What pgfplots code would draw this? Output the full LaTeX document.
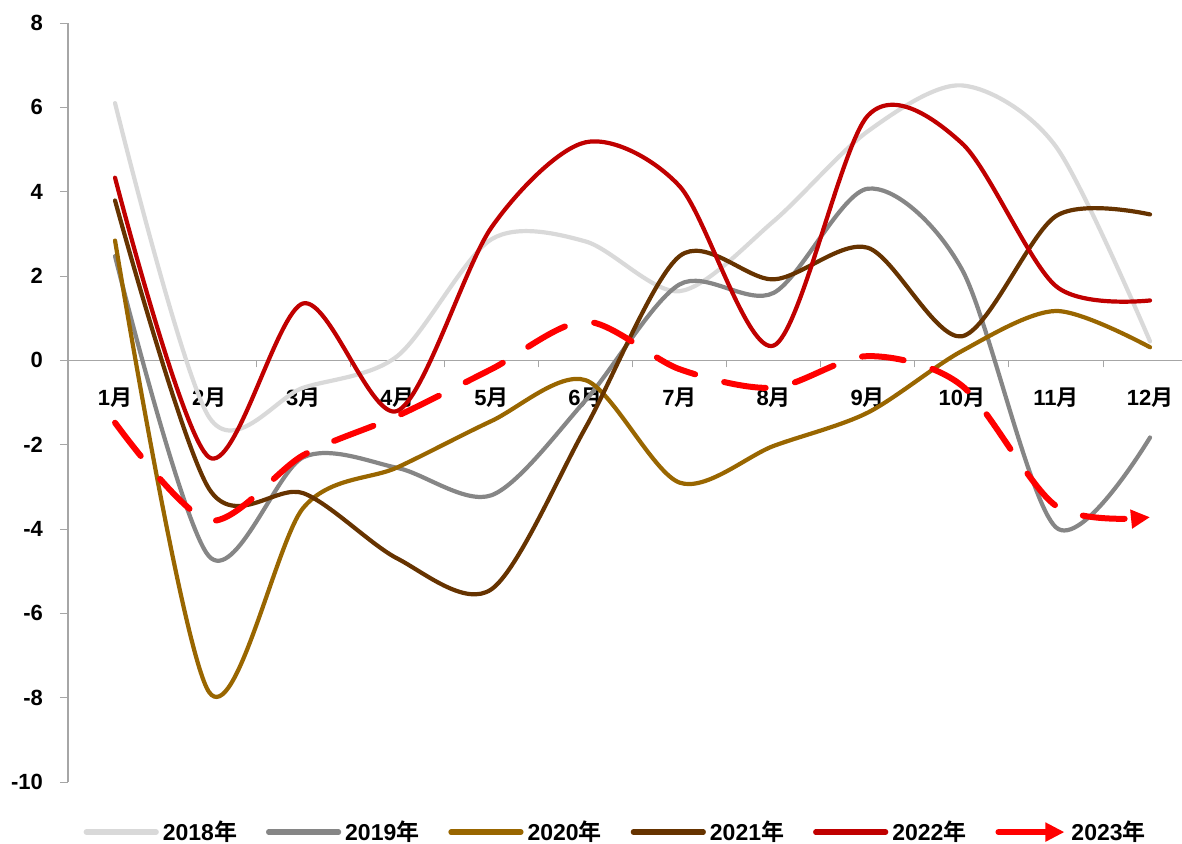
\documentclass[border=0pt]{standalone}
\usepackage{fontspec}
\setmainfont{Liberation Sans}
\newfontfamily\cjk{Noto Sans CJK SC}[BoldFont={Noto Sans CJK SC Bold}]
\usepackage{pgfplots}
\usepackage{pgfplotstable}
\pgfplotsset{compat=1.18}
\usetikzlibrary{arrows.meta}
\definecolor{c18}{HTML}{D9D9D9}
\definecolor{c19}{HTML}{868686}
\definecolor{c20}{HTML}{996600}
\definecolor{c21}{HTML}{663300}
\definecolor{c22}{HTML}{C00000}
\definecolor{c23}{HTML}{FF0000}
\definecolor{axgray}{HTML}{A6A6A6}
\pgfplotstableread{
m y18 y19 y20 y21 y22 y23
1 6.1 2.47 2.84 3.79 4.33 -1.48
2 -1.35 -4.65 -7.87 -3.05 -2.3 -3.8
3 -0.65 -2.3 -3.5 -3.15 1.35 -2.25
4 0.1 -2.55 -2.54 -4.7 -1.2 -1.32
5 2.87 -3.2 -1.44 -5.43 3.15 -0.21
6 2.82 -0.95 -0.47 -1.6 5.17 0.92
7 1.64 1.8 -2.9 2.47 4.13 -0.21
8 3.3 1.6 -2.03 1.92 0.35 -0.65
9 5.43 4.07 -1.24 2.67 5.8 0.1
10 6.52 2.16 0.22 0.57 5.15 -0.6
11 5.07 -3.96 1.17 3.42 1.76 -3.45
12 0.45 -1.83 0.31 3.46 1.42 -3.72
}\data
\newcommand{\yue}{{\cjk 月}}
\newcommand{\nian}{{\cjk 年}}
\begin{document}
\begin{tikzpicture}
\begin{axis}[
  name=ax, at={(0,0)}, anchor=south west,
  scale only axis, width=557pt, height=379.5pt,
  xmin=0.5, xmax=12.34, ymin=-10, ymax=8,
  axis x line=middle, axis y line=left,
  axis line style={draw=axgray, line width=0.8pt, -},
  hide obscured x ticks=false, hide obscured y ticks=false,
  xtick={1,...,12},
  xticklabels={1\yue,2\yue,3\yue,4\yue,5\yue,6\yue,7\yue,8\yue,9\yue,10\yue,11\yue,12\yue},
  minor x tick num=1,
  ytick={-10,-8,...,8},
  yticklabels={-10,-8,-6,-4,-2,0,2,4,6,8},
  tick align=outside,
  major tick length=4pt, minor tick length=3.5pt,
  major x tick style={draw=none},
  tick style={draw=axgray, line width=0.8pt},
  tick label style={font=\bfseries\fontsize{11}{13}\selectfont},
  xticklabel style={anchor=north, yshift=-6pt},
  yticklabel style={anchor=east, xshift=-5pt},
  every tick/.style={draw=axgray},
  legend style={at={(0.4925,-0.066)}, anchor=center, draw=none, fill=none,
    legend columns=6, font=\bfseries\fontsize{11.5}{13}\selectfont,
    /tikz/every even column/.append style={column sep=12.5pt}},
  legend cell align=left,
  legend image code/.code={\draw[#1, line width=2.6pt] (0pt,0pt) -- (35pt,0pt);},
  every axis plot/.append style={line cap=round, line join=round, smooth, tension=0.5},
]
\addplot[c18, line width=2.1pt] table[x=m, y=y18] {\data};
\addlegendentry{2018\nian}
\addplot[c19, line width=2.1pt] table[x=m, y=y19] {\data};
\addlegendentry{2019\nian}
\addplot[c20, line width=2.1pt] table[x=m, y=y20] {\data};
\addlegendentry{2020\nian}
\addplot[c21, line width=2.1pt] table[x=m, y=y21] {\data};
\addlegendentry{2021\nian}
\addplot[c22, line width=2.1pt] table[x=m, y=y22] {\data};
\addlegendentry{2022\nian}
\addplot[c23, line width=3pt, dash pattern=on 21pt off 15pt,
  -{Triangle[length=9.5pt, width=9pt]},
  legend image code/.code={\draw[c23, solid, line width=3pt, line cap=round, -{Triangle[length=9.5pt, width=9pt]}] (0pt,0pt) -- (33pt,0pt);}]
  table[x=m, y=y23] {\data};
\addlegendentry{2023\nian}
\end{axis}
\pgfresetboundingbox
\path (-34pt,-31pt) rectangle (557pt,391pt);
\end{tikzpicture}
\end{document}
